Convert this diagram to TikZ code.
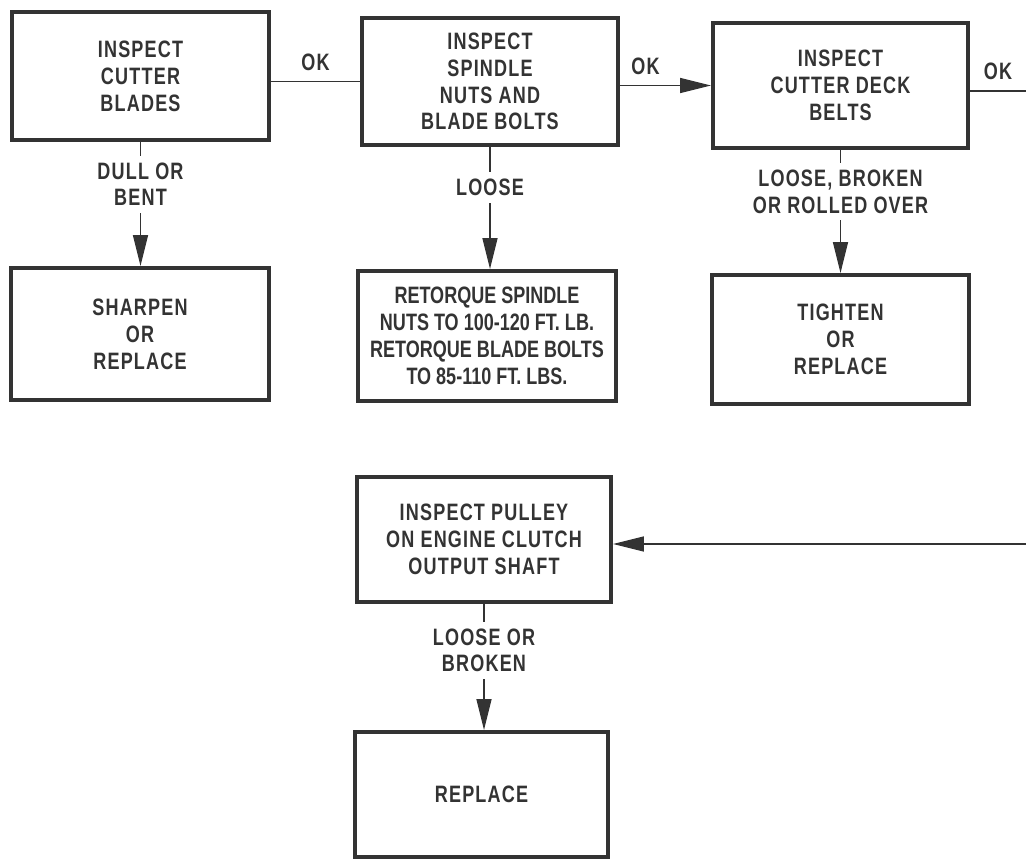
\documentclass[tikz,border=0pt]{standalone}
\usepackage{fontspec}
\usetikzlibrary{arrows.meta}
\newfontfamily\chartfont{Liberation Sans}[FakeStretch=0.76,LetterSpace=5]
\newfontfamily\chartfontnarrow{Liberation Sans}[FakeStretch=0.76]
\definecolor{inkgray}{HTML}{333333}

\begin{document}
\begin{tikzpicture}[
  box/.style={draw=inkgray,line width=2.2pt,text=inkgray,align=center,inner sep=0pt,
    font=\chartfont\bfseries\fontsize{13.5}{15.3}\selectfont},
  cond/.style={fill=white,text=inkgray,align=center,inner sep=4pt,
    font=\chartfont\bfseries\fontsize{13.5}{15}\selectfont},
  link/.style={draw=inkgray,line width=0.8pt},
  flow/.style={link,-{Triangle[length=0.62cm,width=0.3cm]}}
]
\useasboundingbox (0,0) rectangle (20.52,-17.18);

% top row
\node[box,minimum width=5.14cm,minimum height=2.56cm] (blades) at (2.81,-1.52) {INSPECT\\CUTTER\\BLADES};
\node[box,minimum width=5.12cm,minimum height=2.54cm] (spindle) at (9.80,-1.63) {INSPECT\\SPINDLE\\NUTS AND\\BLADE BOLTS};
\node[box,minimum width=5.10cm,minimum height=2.50cm] (belts) at (16.81,-1.71) {INSPECT\\CUTTER DECK\\BELTS};

% second row
\node[box,minimum width=5.16cm,minimum height=2.64cm] (sharpen) at (2.80,-6.68) {SHARPEN\\OR\\REPLACE};
\node[box,minimum width=5.16cm,minimum height=2.60cm,font=\chartfontnarrow\bfseries\fontsize{13.5}{15.3}\selectfont] (retorque) at (9.74,-6.72)
  {RETORQUE SPINDLE\\NUTS TO 100-120 FT. LB.\\RETORQUE BLADE BOLTS\\TO 85-110 FT. LBS.};
\node[box,minimum width=5.14cm,minimum height=2.58cm] (tighten) at (16.81,-6.79) {TIGHTEN\\OR\\REPLACE};

% lower column
\node[box,minimum width=5.08cm,minimum height=2.50cm] (pulley) at (9.68,-10.79) {INSPECT PULLEY\\ON ENGINE CLUTCH\\OUTPUT SHAFT};
\node[box,minimum width=5.06cm,minimum height=2.50cm] (replace) at (9.63,-15.89) {REPLACE};

\coordinate (exitok) at (20.52,-1.82);
\coordinate (backin) at (20.52,-10.88);

% OK path
\draw[link] (spindle.west -| blades.east) -- node[cond,fill=none,above=2pt]{OK} (spindle.west);
\draw[flow] (belts.west -| spindle.east) -- node[cond,fill=none,above=2pt,pos=0.28]{OK} (belts.west);
\draw[link] (belts.east |- exitok) -- node[cond,fill=none,above=2pt]{OK} (exitok);
\draw[flow] (backin) -- (backin -| pulley.east);

% fault paths
\draw[flow] (blades.south) -- node[cond,pos=0.34]{DULL OR\\BENT} (blades.south |- sharpen.north);
\draw[flow] (spindle.south) -- node[cond,pos=0.33]{LOOSE} (spindle.south |- retorque.north);
\draw[flow] (belts.south) -- node[cond,pos=0.34]{LOOSE, BROKEN\\OR ROLLED OVER} (belts.south |- tighten.north);
\draw[flow] (pulley.south) -- node[cond,pos=0.37]{LOOSE OR\\BROKEN} (pulley.south |- replace.north);
\end{tikzpicture}
\end{document}
